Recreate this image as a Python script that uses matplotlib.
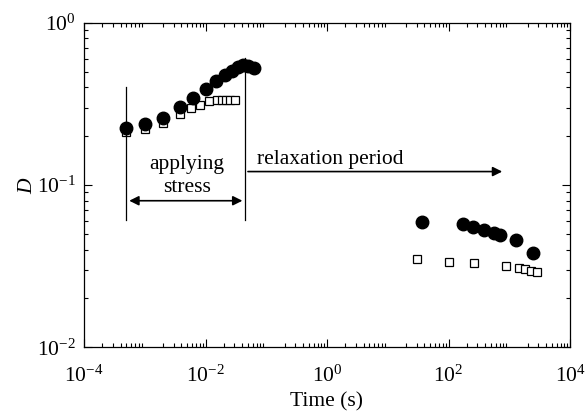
import math
import matplotlib
matplotlib.use("Agg")
from matplotlib import pyplot as plt, ticker

plt.rcParams['font.family'] = ['Liberation Serif', 'DejaVu Serif']
plt.rcParams['mathtext.fontset'] = 'custom'
plt.rcParams['mathtext.rm'] = 'Liberation Serif'
plt.rcParams['mathtext.it'] = 'Liberation Serif:italic'

# loading stage (stress applied)
t_load_circ = [5e-4, 1e-3, 2e-3, 3.8e-3, 6.3e-3, 0.0103, 0.015, 0.021, 0.027, 0.034, 0.041, 0.0506, 0.063]
d_load_circ = [0.225, 0.238, 0.258, 0.301, 0.342, 0.392, 0.435, 0.474, 0.506, 0.536, 0.548, 0.543, 0.528]
t_load_sq = [5e-4, 1e-3, 2e-3, 3.8e-3, 5.8e-3, 8.1e-3, 0.0114, 0.0153, 0.0185, 0.022, 0.0253, 0.0303]
d_load_sq = [0.213, 0.221, 0.242, 0.273, 0.297, 0.311, 0.328, 0.336, 0.336, 0.336, 0.336, 0.335]

# relaxation stage
t_relax_circ = [36.6, 175, 256, 384, 561, 704, 1291, 2489]
d_relax_circ = [0.0589, 0.0575, 0.0553, 0.0531, 0.0508, 0.0494, 0.0460, 0.0381]
t_relax_sq = [30.7, 102, 260, 894, 1431, 1796, 2255, 2864]
d_relax_sq = [0.0348, 0.0337, 0.0330, 0.0315, 0.0307, 0.0303, 0.0297, 0.0291]

t_start, t_end = 5e-4, 0.045
FS = 15.5

fig = plt.figure(figsize=(5.85, 4.15), dpi=100)
ax = fig.add_axes([84 / 585, 1 - 347.3 / 415, 486 / 585, 324.6 / 415])

ax.plot(t_load_sq + t_relax_sq, d_load_sq + d_relax_sq, ls='none', marker='s', ms=6,
        mfc='white', mec='black', mew=0.9)
ax.plot(t_load_circ + t_relax_circ, d_load_circ + d_relax_circ, ls='none', marker='o', ms=9,
        mfc='black', mec='black')

ax.set_xscale('log')
ax.set_yscale('log')
ax.set_xlim(1e-4, 1e4)
ax.set_ylim(1e-2, 1e0)

fmt = ticker.FuncFormatter(lambda v, p: r'$\mathregular{10^{%d}}$' % round(math.log10(v)))
ax.xaxis.set_major_locator(ticker.FixedLocator([1e-4, 1e-2, 1e0, 1e2, 1e4]))
ax.xaxis.set_minor_locator(ticker.LogLocator(base=10, subs=range(2, 10), numticks=20))
ax.yaxis.set_major_locator(ticker.FixedLocator([1e-2, 1e-1, 1e0]))
ax.yaxis.set_minor_locator(ticker.LogLocator(base=10, subs=range(2, 10), numticks=20))
ax.xaxis.set_major_formatter(fmt)
ax.yaxis.set_major_formatter(fmt)
ax.xaxis.set_minor_formatter(ticker.NullFormatter())
ax.yaxis.set_minor_formatter(ticker.NullFormatter())
ax.tick_params(which='both', direction='in', top=True, right=True, labelsize=FS, width=0.8)
ax.tick_params(which='major', length=6)
ax.tick_params(which='minor', length=3)
ax.tick_params(axis='x', which='major', pad=13)
ax.tick_params(axis='y', which='major', pad=6)
for s in ax.spines.values():
    s.set_linewidth(0.9)

ax.set_xlabel('Time (s)', fontsize=FS)
ax.set_ylabel(r'$D$', fontsize=FS)
ax.xaxis.set_label_coords(0.5, -0.138)
ax.yaxis.set_label_coords(-0.097, 0.5)

# stage markers
ax.plot([t_start, t_start], [0.0608, 0.40], color='black', lw=0.9)
ax.plot([t_end, t_end], [0.0608, 0.608], color='black', lw=0.9)
ax.annotate('', xy=(t_start, 0.080), xytext=(t_end, 0.080),
            arrowprops=dict(arrowstyle='<|-|>', color='black', lw=1.2, mutation_scale=14))
ax.annotate('', xy=(851, 0.121), xytext=(t_end, 0.121),
            arrowprops=dict(arrowstyle='-|>', color='black', lw=1.2, mutation_scale=14))
ax.text(4.9e-3, 0.1135, 'applying\nstress', ha='center', va='center', fontsize=FS, linespacing=1.25)
ax.text(1.12, 0.143, 'relaxation period', ha='center', va='center', fontsize=FS)

fig.savefig('out.png', dpi=100)
